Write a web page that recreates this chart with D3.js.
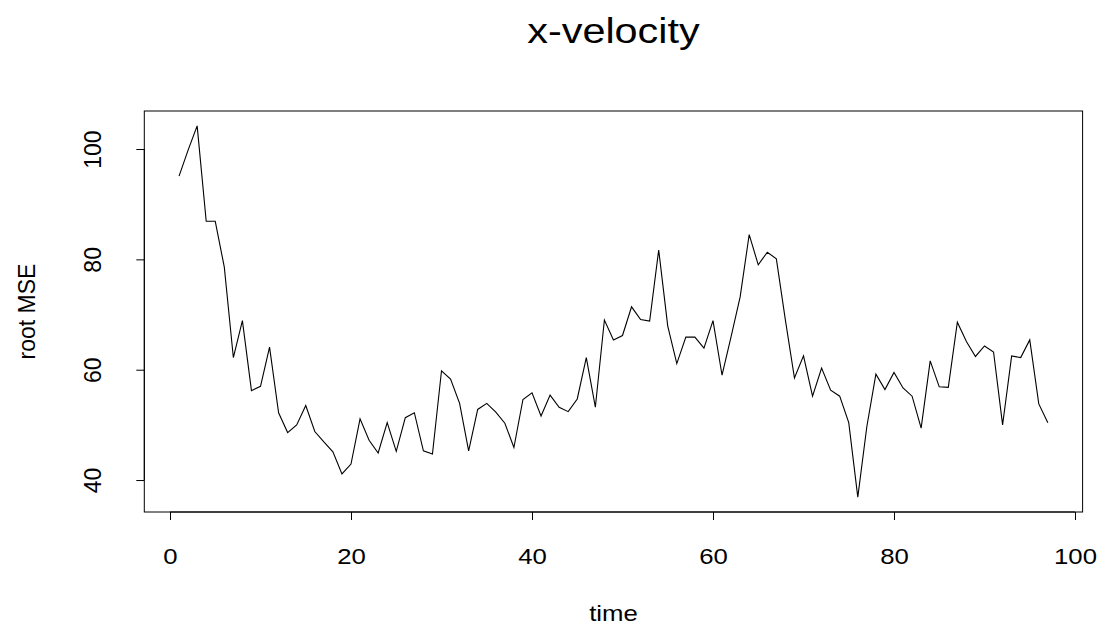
<!DOCTYPE html>
<html>
<head>
<meta charset="utf-8">
<script src="https://cdn.jsdelivr.net/npm/d3@7"></script>
<style>
  html, body { margin: 0; padding: 0; background: #fff; }
  svg { display: block; }
  text { font-family: "Liberation Sans", Arial, Helvetica, sans-serif; fill: #000; }
</style>
</head>
<body>
<svg id="chart" width="1102" height="629"></svg>
<script>
// Time index of each evaluation step
const time = [
   1,  2,  3,  4,  5,  6,  7,  8,  9, 10,
  11, 12, 13, 14, 15, 16, 17, 18, 19, 20,
  21, 22, 23, 24, 25, 26, 27, 28, 29, 30,
  31, 32, 33, 34, 35, 36, 37, 38, 39, 40,
  41, 42, 43, 44, 45, 46, 47, 48, 49, 50,
  51, 52, 53, 54, 55, 56, 57, 58, 59, 60,
  61, 62, 63, 64, 65, 66, 67, 68, 69, 70,
  71, 72, 73, 74, 75, 76, 77, 78, 79, 80,
  81, 82, 83, 84, 85, 86, 87, 88, 89, 90,
  91, 92, 93, 94, 95, 96, 97
];

// Root mean squared error of the x-velocity at each step
const rootMSE = [
  95.1, 99.8, 104.2, 86.9, 86.9, 78.6, 62.2, 68.9, 56.2, 57.0,
  64.1, 52.2, 48.6, 50.0, 53.5, 48.8, 46.9, 45.1, 41.1, 42.9,
  51.1, 47.2, 44.9, 50.4, 45.2, 51.3, 52.2, 45.3, 44.7, 59.8,
  58.3, 53.9, 45.3, 52.8, 53.9, 52.3, 50.3, 45.9, 54.6, 55.8,
  51.6, 55.4, 53.2, 52.4, 54.7, 62.2, 53.2, 69.0, 65.4, 66.2,
  71.4, 69.1, 68.8, 81.7, 67.9, 61.1, 65.9, 65.9, 63.9, 68.9,
  59.0, 66.0, 73.2, 84.5, 79.0, 81.3, 80.1, 69.0, 58.5, 62.5,
  55.2, 60.3, 56.3, 55.2, 50.4, 36.9, 49.7, 59.2, 56.4, 59.5,
  56.7, 55.2, 49.4, 61.6, 56.9, 56.8, 68.6, 65.1, 62.4, 64.3,
  63.2, 50.0, 62.5, 62.2, 65.4, 53.8, 50.4
];

const xTicks = [0, 20, 40, 60, 80, 100];
const yTicks = [40, 60, 80, 100];

const titleText = "x-velocity";
const xLabel = "time";
const yLabel = "root MSE";

// Plot region
const plot = { left: 144.3, right: 1082.6, top: 111, bottom: 512 };
const stretch = 1.12;   // horizontal widening of upright text
const fontSize = 23;

// Extend data range by 4% on each side
function padded(extent) {
  const d = (extent[1] - extent[0]) * 0.04;
  return [extent[0] - d, extent[1] + d];
}

const x = d3.scaleLinear()
  .domain(padded(d3.extent(time)))
  .range([plot.left, plot.right]);

const y = d3.scaleLinear()
  .domain(padded(d3.extent(rootMSE)))
  .range([plot.bottom, plot.top]);

const svg = d3.select("#chart");

// Bottom axis
const gx = svg.append("g")
  .attr("transform", `translate(0,${plot.bottom})`)
  .call(d3.axisBottom(x).tickValues(xTicks).tickSize(8).tickPadding(28).tickFormat(d3.format("d")));
gx.select(".domain").remove();
gx.selectAll(".tick line").attr("stroke", "#000").attr("stroke-width", 1);
gx.selectAll(".tick text")
  .attr("font-size", fontSize)
  .attr("font-family", null)
  .attr("transform", `scale(${stretch},1)`);

// Left axis with labels running along the axis
const gy = svg.append("g")
  .attr("transform", `translate(${plot.left},0)`)
  .call(d3.axisLeft(y).tickValues(yTicks).tickSize(8).tickFormat(d3.format("d")));
gy.select(".domain").remove();
gy.selectAll(".tick line").attr("stroke", "#000").attr("stroke-width", 1);
gy.selectAll(".tick text")
  .attr("font-size", fontSize)
  .attr("font-family", null)
  .attr("text-anchor", "middle")
  .attr("transform", "rotate(-90)")
  .attr("x", 0)
  .attr("y", -43)
  .attr("dy", 0);

// Axis lines spanning the first to last tick
svg.append("line")
  .attr("x1", x(xTicks[0])).attr("x2", x(xTicks[xTicks.length - 1]))
  .attr("y1", plot.bottom).attr("y2", plot.bottom)
  .attr("stroke", "#000");
svg.append("line")
  .attr("x1", plot.left).attr("x2", plot.left)
  .attr("y1", y(yTicks[0])).attr("y2", y(yTicks[yTicks.length - 1]))
  .attr("stroke", "#000");

// Series line
const line = d3.line()
  .x((d, i) => x(time[i]))
  .y(d => y(d));

svg.append("path")
  .datum(rootMSE)
  .attr("fill", "none")
  .attr("stroke", "#000")
  .attr("stroke-width", 1.1)
  .attr("stroke-linejoin", "miter")
  .attr("d", line);

// Frame around the plot region
svg.append("rect")
  .attr("x", plot.left)
  .attr("y", plot.top)
  .attr("width", plot.right - plot.left)
  .attr("height", plot.bottom - plot.top)
  .attr("fill", "none")
  .attr("stroke", "#000")
  .attr("stroke-width", 1);

// Titles
const cx = (plot.left + plot.right) / 2;
const cy = (plot.top + plot.bottom) / 2;

svg.append("text")
  .attr("transform", `translate(${cx},43) scale(1.15,1)`)
  .attr("text-anchor", "middle")
  .attr("font-size", 36)
  .text(titleText);

svg.append("text")
  .attr("transform", `translate(${cx},621) scale(${stretch},1)`)
  .attr("text-anchor", "middle")
  .attr("font-size", fontSize)
  .text(xLabel);

svg.append("text")
  .attr("transform", `translate(35,${cy}) rotate(-90)`)
  .attr("text-anchor", "middle")
  .attr("font-size", fontSize)
  .text(yLabel);
</script>
</body>
</html>
